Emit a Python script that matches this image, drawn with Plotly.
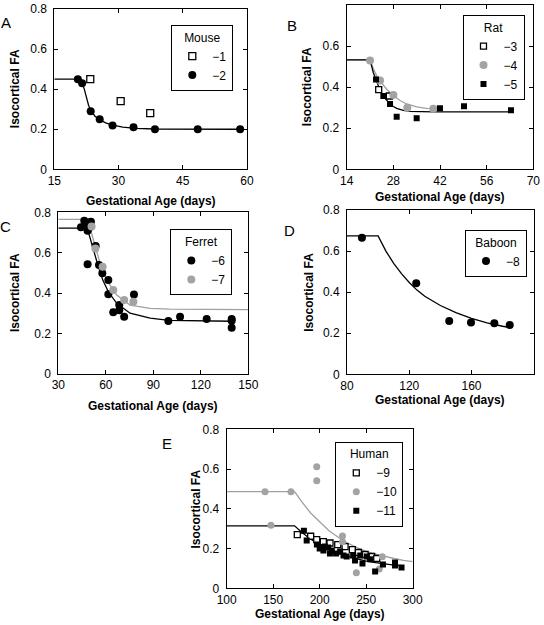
import plotly.graph_objects as go

W, H = 544, 625
FONT = "Liberation Sans"
GRAY = "#a3a3a3"
GRAYLINE = "#a0a0a0"

# ---------------- data ----------------
# A: Mouse
mouse1_age = [23.4, 30.5, 37.4]
mouse1_fa = [0.45, 0.34, 0.28]
mouse2_age = [20.5, 21.5, 23.5, 25.6, 28.6, 33.5, 38.5, 48.5, 58.4]
mouse2_fa = [0.45, 0.43, 0.29, 0.25, 0.218, 0.21, 0.20, 0.20, 0.20]
mouse_fit_age = [15, 20, 21, 21.5, 22, 22.5, 23, 23.5, 24.5, 25.6, 27, 28.6, 31, 34, 38.5, 58.4]
mouse_fit_fa = [0.45, 0.45, 0.445, 0.43, 0.40, 0.36, 0.32, 0.295, 0.265, 0.248, 0.232, 0.22, 0.21, 0.204, 0.201, 0.20]

# B: Rat
rat3_age = [23.6, 26.8]
rat3_fa = [0.388, 0.357]
rat4_age = [21.0, 24.0, 28.0, 32.2, 40.0]
rat4_fa = [0.53, 0.432, 0.362, 0.30, 0.295]
rat5_age = [22.8, 25.0, 27.0, 29.0, 35.0, 42.0, 49.2, 63.3]
rat5_fa = [0.437, 0.357, 0.318, 0.256, 0.249, 0.297, 0.307, 0.287]
rat_fit_b_age = [14, 21, 22, 23, 24, 25, 26, 27, 28, 29, 31, 33, 40, 63.3]
rat_fit_b_fa = [0.533, 0.533, 0.47, 0.425, 0.385, 0.355, 0.335, 0.318, 0.306, 0.297, 0.287, 0.282, 0.28, 0.28]
rat_fit_g_age = [14, 21, 22, 23, 24, 25, 26, 28, 30, 32, 35, 38, 40]
rat_fit_g_fa = [0.533, 0.533, 0.49, 0.455, 0.43, 0.408, 0.39, 0.36, 0.335, 0.318, 0.304, 0.297, 0.295]

# C: Ferret
ferret6_age = [44.3, 46.4, 47.6, 48.9, 50.6, 48.5, 49.2, 48.5, 53.6, 55.7, 57.8, 61.6, 61.6,
               64.7, 68.5, 68.5, 71.6, 77.8, 99.5, 106.9, 123.7, 139.5, 139.5, 139.5]
ferret6_fa = [0.726, 0.758, 0.74, 0.748, 0.753, 0.709, 0.72, 0.542, 0.633, 0.539, 0.498, 0.464, 0.394,
              0.304, 0.340, 0.315, 0.282, 0.392, 0.261, 0.282, 0.271, 0.271, 0.262, 0.228]
ferret7_age = [51.0, 53.4, 58.0, 64.7, 71.6, 77.4]
ferret7_fa = [0.73, 0.62, 0.53, 0.415, 0.365, 0.357]
ferret_fit_b_age = [30, 47, 48.9, 51.0, 53.2, 55.3, 58.1, 61.6, 66.9, 75.3, 88, 100, 140]
ferret_fit_b_fa = [0.722, 0.722, 0.704, 0.646, 0.588, 0.53, 0.464, 0.406, 0.349, 0.30, 0.275, 0.264, 0.26]
ferret_fit_g_age = [30, 49, 51, 53.2, 56.4, 60.6, 66.9, 75.3, 88, 100, 150]
ferret_fit_g_fa = [0.765, 0.765, 0.696, 0.63, 0.547, 0.464, 0.39, 0.34, 0.324, 0.32, 0.318]

# D: Baboon
baboon_age = [89.6, 124.5, 145.7, 159.7, 174.7, 184.6]
baboon_fa = [0.665, 0.443, 0.26, 0.252, 0.249, 0.24]
baboon_fit_age = [80, 100, 105, 110, 115, 120, 125, 130, 140, 150, 160, 170, 180, 185]
baboon_fit_fa = [0.674, 0.674, 0.60, 0.54, 0.49, 0.447, 0.41, 0.38, 0.335, 0.30, 0.272, 0.25, 0.234, 0.227]

# E: Human
h9_age = [175.9, 190.3, 196.8, 203.9, 211.1, 219.4, 227.3, 235.1, 241.6, 248.8, 255.9, 261.3]
h9_fa = [0.27, 0.262, 0.245, 0.235, 0.228, 0.22, 0.21, 0.195, 0.18, 0.17, 0.16, 0.15]
h10_age = [141.2, 169.1, 147.6, 196.8, 196.8, 224.5, 224.5, 239.4, 264.1, 267.3]
h10_fa = [0.486, 0.486, 0.317, 0.612, 0.541, 0.263, 0.234, 0.078, 0.097, 0.159]
h11_age = [183, 186, 197, 200, 204, 205.5, 209, 211, 213, 217.6, 222, 225.6, 229, 236, 238,
           243.6, 246, 250.7, 254, 259.6, 268, 281, 281, 288]
h11_fa = [0.29, 0.24, 0.22, 0.20, 0.19, 0.21, 0.205, 0.175, 0.19, 0.175, 0.185, 0.165, 0.16, 0.165, 0.14,
          0.165, 0.125, 0.16, 0.146, 0.085, 0.12, 0.115, 0.13, 0.105]
human_fit_g_age = [100, 173, 180, 190, 200, 210, 220, 230, 240, 250, 260, 270, 280, 290, 300]
human_fit_g_fa = [0.486, 0.486, 0.44, 0.38, 0.335, 0.29, 0.257, 0.228, 0.205, 0.186, 0.172, 0.16, 0.15, 0.141, 0.134]
human_fit_b_age = [100, 173, 180, 190, 200, 210, 220, 230, 240, 250, 260, 270, 280, 288]
human_fit_b_fa = [0.314, 0.314, 0.284, 0.248, 0.219, 0.196, 0.176, 0.16, 0.147, 0.137, 0.129, 0.122, 0.117, 0.114]

y_ticks = [0, 0.2, 0.4, 0.6, 0.8]
y_ticktext = ["0", "0.2", "0.4", "0.6", "0.8"]

# ---------------- layout helpers ----------------
def xdom(a, b):
    return [a / W, b / W]

def ydom(top, bottom):
    return [1 - bottom / H, 1 - top / H]

tickfont = dict(family=FONT, size=12, color="black")

def xaxis(dom, rng, ticks, anchor):
    return dict(domain=xdom(*dom), range=rng, tickvals=ticks, ticks="inside", ticklen=4,
                tickcolor="black", tickwidth=1, showline=True, linecolor="black", linewidth=1,
                mirror="ticks", showgrid=False, zeroline=False, anchor=anchor,
                tickfont=tickfont, fixedrange=True, automargin=False, ticklabelstandoff=0)

def yaxis(dom, anchor):
    return dict(domain=ydom(*dom), range=[0, 0.8], tickvals=y_ticks, ticktext=y_ticktext,
                ticks="inside", ticklen=4, tickcolor="black", tickwidth=1, showline=True,
                linecolor="black", linewidth=1, mirror="ticks", showgrid=False, zeroline=False,
                anchor=anchor, tickfont=tickfont, fixedrange=True, automargin=False,
                ticklabelstandoff=4)

panels = [
    # name, x px, y px, x range, x ticks
    ("A", (54.3, 247.0), (9.0, 169.3), [15, 60], [15, 30, 45, 60]),
    ("B", (346.7, 533.3), (5.0, 169.3), [14, 70], [14, 28, 42, 56, 70]),
    ("C", (58.3, 248.3), (212.3, 373.7), [30, 150], [30, 60, 90, 120, 150]),
    ("D", (347.0, 533.7), (210.0, 374.3), [80, 200], [80, 120, 160, 200]),
    ("E", (226.7, 412.7), (429.3, 588.3), [100, 300], [100, 150, 200, 250, 300]),
]

fig = go.Figure()

def circles(x, y, name, color, ax, lg, size=8):
    fig.add_trace(go.Scatter(x=x, y=y, mode="markers", name=name,
                             marker=dict(symbol="circle", size=size, color=color, line=dict(width=0)),
                             xaxis=ax[0], yaxis=ax[1], legend=lg))

def squares(x, y, name, filled, ax, lg, size=7):
    if filled:
        m = dict(symbol="square", size=size, color="black", line=dict(width=0))
    else:
        m = dict(symbol="square", size=size, color="white", line=dict(width=1.3, color="black"))
    fig.add_trace(go.Scatter(x=x, y=y, mode="markers", name=name, marker=m,
                             xaxis=ax[0], yaxis=ax[1], legend=lg))

def fitline(x, y, color, ax):
    fig.add_trace(go.Scatter(x=x, y=y, mode="lines", line=dict(color=color, width=1.3),
                             showlegend=False, hoverinfo="skip", xaxis=ax[0], yaxis=ax[1]))

axA, axB, axC, axD, axE = ("x", "y"), ("x2", "y2"), ("x3", "y3"), ("x4", "y4"), ("x5", "y5")

# A
fitline(mouse_fit_age, mouse_fit_fa, "black", axA)
squares(mouse1_age, mouse1_fa, "−1", False, axA, "legend")
circles(mouse2_age, mouse2_fa, "−2", "black", axA, "legend")
# B
fitline(rat_fit_g_age, rat_fit_g_fa, GRAYLINE, axB)
fitline(rat_fit_b_age, rat_fit_b_fa, "black", axB)
squares(rat3_age, rat3_fa, "−3", False, axB, "legend2", size=6)
circles(rat4_age, rat4_fa, "−4", GRAY, axB, "legend2", size=8)
squares(rat5_age, rat5_fa, "−5", True, axB, "legend2", size=6)
# C
fitline(ferret_fit_g_age, ferret_fit_g_fa, GRAYLINE, axC)
fitline(ferret_fit_b_age, ferret_fit_b_fa, "black", axC)
circles(ferret6_age, ferret6_fa, "−6", "black", axC, "legend3", size=8)
circles(ferret7_age, ferret7_fa, "−7", GRAY, axC, "legend3", size=8)
# D
fitline(baboon_fit_age, baboon_fit_fa, "black", axD)
circles(baboon_age, baboon_fa, "−8", "black", axD, "legend4", size=8)
# E
fitline(human_fit_g_age, human_fit_g_fa, GRAYLINE, axE)
fitline(human_fit_b_age, human_fit_b_fa, "black", axE)
squares(h9_age, h9_fa, "−9", False, axE, "legend5", size=6)
circles(h10_age, h10_fa, "−10", GRAY, axE, "legend5", size=7)
squares(h11_age, h11_fa, "−11", True, axE, "legend5", size=6)

layout = dict(width=W, height=H, margin=dict(l=0, r=0, t=0, b=0), autosize=False,
              paper_bgcolor="white", plot_bgcolor="white", showlegend=True,
              font=dict(family=FONT, size=12, color="black"))

annotations = []
for i, (name, xp, yp, xr, xt) in enumerate(panels):
    sfx = "" if i == 0 else str(i + 1)
    layout["xaxis" + sfx] = xaxis(xp, xr, xt, "y" + sfx)
    layout["yaxis" + sfx] = yaxis(yp, "x" + sfx)

# legend title, right edge px, top px
legend_pos = [("Mouse", 233.3, 25.0), ("Rat", 524.5, 15.0), ("Ferret", 232.3, 229.3),
              ("Baboon", 527.0, 230.0), ("Human", 403.3, 441.7)]
for i, (title, rx, ty) in enumerate(legend_pos):
    key = "legend" if i == 0 else "legend" + str(i + 1)
    layout[key] = dict(x=rx / W, y=1 - ty / H, xanchor="right", yanchor="top",
                       bgcolor="white", bordercolor="black", borderwidth=1,
                       font=dict(family=FONT, size=12, color="black"),
                       title=dict(text=title, side="top center",
                                  font=dict(family=FONT, size=12, color="black")),
                       itemwidth=30, tracegroupgap=0)

# axis titles & panel letters
xtitle_y = [200.7, 197.0, 405.7, 399.5, 614.0]
ytitle_x = [15.0, 307.0, 15.0, 308.7, 195.7]
letters = [(6, 23), (292, 25), (5, 227), (289, 230), (167, 443)]
for i, (name, xp, yp, xr, xt) in enumerate(panels):
    cx = (xp[0] + xp[1]) / 2
    cy = (yp[0] + yp[1]) / 2
    annotations.append(dict(text="Gestational Age (days)", x=cx / W, y=1 - xtitle_y[i] / H,
                            xref="paper", yref="paper", showarrow=False, xanchor="center",
                            yanchor="middle", font=dict(family=FONT, size=12, weight="bold")))
    annotations.append(dict(text="Isocortical FA", x=ytitle_x[i] / W, y=1 - cy / H, textangle=-90,
                            xref="paper", yref="paper", showarrow=False, xanchor="center",
                            yanchor="middle", font=dict(family=FONT, size=12, weight="bold")))
    annotations.append(dict(text=name, x=letters[i][0] / W, y=1 - letters[i][1] / H,
                            xref="paper", yref="paper", showarrow=False, xanchor="center",
                            yanchor="middle", font=dict(family=FONT, size=15)))
layout["annotations"] = annotations

fig.update_layout(**layout)
fig.write_html("out.html", config={"displayModeBar": False, "staticPlot": True},
               post_script="document.body.style.margin='0px';document.body.style.overflow='hidden';")
